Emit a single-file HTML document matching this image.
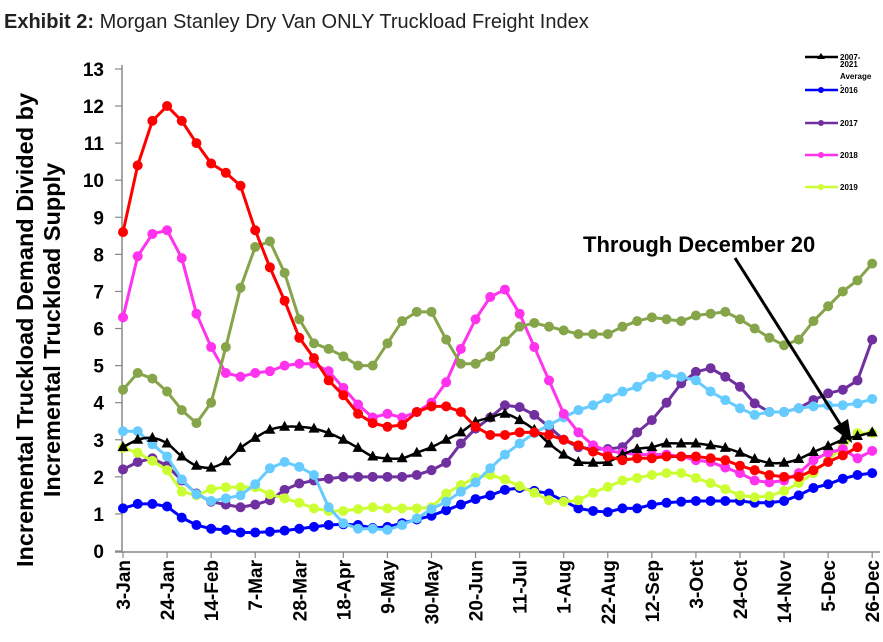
<!DOCTYPE html>
<html><head><meta charset="utf-8">
<style>
body{margin:0;background:#fff;width:883px;height:637px;overflow:hidden;font-family:"Liberation Sans",sans-serif}
</style></head>
<body>
<svg id="chart" width="883" height="637" viewBox="0 0 883 637" xmlns="http://www.w3.org/2000/svg" font-family="Liberation Sans, sans-serif">
<text x="4" y="28" font-size="20" fill="#222"><tspan font-weight="bold">Exhibit 2:</tspan> Morgan Stanley Dry Van ONLY Truckload Freight Index</text>
<g font-size="23.5" font-weight="bold" fill="#000" text-anchor="middle">
<text transform="translate(33,330) rotate(-90)">Incremental Truckload Demand Divided by</text>
<text transform="translate(60,330) rotate(-90)">Incremental Truckload Supply</text>
</g>
<g id="axes"></g>
<g id="series"></g>
<g id="legend"></g>
<text x="583" y="252" font-size="22" font-weight="bold" fill="#000">Through December 20</text>
<line x1="735" y1="258" x2="842" y2="427" stroke="#000" stroke-width="3"/>
<polygon points="852,443 833,428 848,419" fill="#000"/>
</svg>
<script>
const xLabels=["3-Jan","24-Jan","14-Feb","7-Mar","28-Mar","18-Apr","9-May","30-May","20-Jun","11-Jul","1-Aug","22-Aug","12-Sep","3-Oct","24-Oct","14-Nov","5-Dec","26-Dec"];
const yTicks=[0,1,2,3,4,5,6,7,8,9,10,11,12,13];
const avgValues=[2.8,3.0,3.05,2.9,2.55,2.3,2.25,2.42,2.78,3.05,3.27,3.35,3.35,3.3,3.18,3.0,2.78,2.55,2.5,2.5,2.65,2.8,3.0,3.2,3.48,3.6,3.7,3.53,3.27,2.9,2.6,2.4,2.38,2.4,2.6,2.75,2.8,2.9,2.9,2.9,2.85,2.78,2.65,2.48,2.38,2.38,2.48,2.67,2.83,3.0,3.1,3.2];
const s2016=[1.15,1.27,1.27,1.2,0.9,0.7,0.6,0.57,0.5,0.5,0.52,0.55,0.6,0.65,0.7,0.72,0.7,0.62,0.65,0.75,0.85,0.95,1.1,1.25,1.4,1.5,1.65,1.7,1.62,1.55,1.35,1.15,1.08,1.05,1.15,1.15,1.25,1.3,1.33,1.35,1.35,1.35,1.35,1.3,1.3,1.35,1.5,1.7,1.8,1.95,2.05,2.1];
const s2017=[2.2,2.4,2.5,2.3,1.9,1.55,1.33,1.25,1.18,1.25,1.37,1.65,1.82,1.9,1.95,2.0,2.0,2.0,2.0,2.0,2.05,2.18,2.38,2.9,3.3,3.6,3.93,3.88,3.67,3.35,3.0,2.8,2.75,2.75,2.8,3.2,3.53,4.0,4.52,4.83,4.93,4.7,4.43,3.98,3.75,3.75,3.85,4.07,4.25,4.35,4.6,5.7];
const s2018=[6.3,7.95,8.55,8.65,7.9,6.4,5.5,4.8,4.7,4.8,4.85,5.0,5.05,5.05,4.85,4.4,3.95,3.6,3.7,3.6,3.75,4.0,4.55,5.45,6.25,6.85,7.05,6.4,5.5,4.6,3.7,3.2,2.85,2.7,2.65,2.6,2.6,2.6,2.55,2.45,2.4,2.25,2.1,1.9,1.85,1.9,2.1,2.45,2.65,2.75,2.5,2.7];
const s2019=[2.78,2.65,2.43,2.18,1.6,1.5,1.67,1.72,1.72,1.72,1.53,1.42,1.3,1.15,1.08,1.08,1.13,1.18,1.15,1.15,1.15,1.18,1.55,1.78,1.98,2.05,1.93,1.75,1.57,1.37,1.33,1.37,1.57,1.73,1.9,1.97,2.05,2.1,2.1,1.97,1.83,1.67,1.5,1.45,1.48,1.62,1.83,2.1,2.45,2.8,3.18,3.18];
const s2020=[4.35,4.8,4.65,4.3,3.8,3.45,4.0,5.5,7.1,8.2,8.35,7.5,6.25,5.6,5.45,5.25,5.0,5.0,5.6,6.2,6.45,6.45,5.7,5.05,5.05,5.25,5.65,6.05,6.15,6.05,5.95,5.85,5.85,5.85,6.05,6.2,6.3,6.25,6.2,6.35,6.4,6.45,6.25,6.0,5.75,5.55,5.7,6.2,6.6,7.0,7.3,7.75];
const s2021=[3.23,3.23,2.88,2.55,1.93,1.53,1.35,1.42,1.5,1.8,2.23,2.4,2.27,2.05,1.18,0.75,0.6,0.6,0.57,0.7,0.88,1.13,1.33,1.6,1.85,2.23,2.6,2.9,3.18,3.4,3.6,3.8,3.93,4.12,4.3,4.43,4.7,4.75,4.7,4.6,4.3,4.07,3.85,3.67,3.75,3.75,3.85,3.9,3.93,3.93,3.98,4.1];
const s2022=[8.6,10.4,11.6,12.0,11.6,11.0,10.45,10.2,9.85,8.65,7.65,6.75,5.75,5.2,4.6,4.2,3.7,3.45,3.35,3.4,3.75,3.9,3.9,3.75,3.35,3.13,3.13,3.2,3.2,3.13,3.0,2.85,2.68,2.55,2.45,2.5,2.5,2.55,2.55,2.55,2.5,2.45,2.3,2.18,2.05,2.0,2.0,2.18,2.4,2.58,2.8];

const NS="http://www.w3.org/2000/svg";
const X0=123, DX=14.69, Y0=551, DY=37.08;
const xs=i=>X0+i*DX;
const ys=v=>Y0-v*DY;
function mk(tag,attrs,parent){const e=document.createElementNS(NS,tag);for(const k in attrs)e.setAttribute(k,attrs[k]);parent.appendChild(e);return e;}
const axes=document.getElementById('axes');
const yaxis=mk('line',{x1:X0-1,y1:ys(13)-4,x2:X0-1,y2:Y0+1,stroke:'#888','stroke-width':1.5},axes);


const xaxis=mk('line',{x1:X0-8,y1:Y0+1,x2:880,y2:Y0+1,stroke:'#888','stroke-width':1.5},axes);


yTicks.forEach(t=>{
  const tk=mk('line',{x1:X0-8,y1:ys(t),x2:X0-1,y2:ys(t),stroke:'#888','stroke-width':1.2},axes);
  
  
  const tx=mk('text',{x:104,y:ys(t)+7,'text-anchor':'end','font-size':19,'font-weight':'bold',fill:'#000'},axes);
  
  
  tx.textContent=t;
});
xLabels.forEach((l,k)=>{
  const x=xs(k*3);
  const tk=mk('line',{x1:x,y1:Y0+1,x2:x,y2:Y0+7,stroke:'#888','stroke-width':1.2},axes);
  
  
  const tx=mk('text',{transform:`translate(${x+7},560) rotate(-90)`,'text-anchor':'end','font-size':19,'font-weight':'bold',fill:'#000'},axes);
  
  
  tx.textContent=l;
});
const series=document.getElementById('series');
function smoothPath(pts){
  let d=`M${pts[0][0]},${pts[0][1]}`;
  for(let i=0;i<pts.length-1;i++){
    const p0=pts[Math.max(0,i-1)],p1=pts[i],p2=pts[i+1],p3=pts[Math.min(pts.length-1,i+2)];
    const c1=[p1[0]+(p2[0]-p0[0])/6,p1[1]+(p2[1]-p0[1])/6];
    const c2=[p2[0]-(p3[0]-p1[0])/6,p2[1]-(p3[1]-p1[1])/6];
    d+=`C${c1[0]},${c1[1]} ${c2[0]},${c2[1]} ${p2[0]},${p2[1]}`;
  }
  return d;
}
function drawCircles(vals,color,name){
  const g=mk('g',{},series);
  
  
  const pts=vals.map((v,i)=>[xs(i),ys(v)]);
  mk('polyline',{points:pts.map(p=>p.join(',')).join(' '),fill:'none',stroke:color,'stroke-width':3,'stroke-linejoin':'round'},g);
  pts.forEach(p=>{
    const c=mk('circle',{cx:p[0],cy:p[1],r:5,fill:color},g);
    
    
  });
}
drawCircles(s2016,'#0000ff','series-2016');
drawCircles(s2017,'#7030a0','series-2017');
drawCircles(s2019,'#ccff33','series-2019');
drawCircles(s2021,'#66ccff','series-2021');
drawCircles(s2018,'#ff33ee','series-2018');
drawCircles(s2020,'#86a44a','series-2020');
(function(){
  const g=mk('g',{},series);
  
  
  const pts=avgValues.map((v,i)=>[xs(i),ys(v)]);
  mk('path',{d:smoothPath(pts),fill:'none',stroke:'#000','stroke-width':2.5},g);
  pts.forEach(p=>{
    const t=mk('polygon',{points:`${p[0]},${p[1]-6} ${p[0]-5.5},${p[1]+4} ${p[0]+5.5},${p[1]+4}`,fill:'#000'},g);
    
    
  });
})();
drawCircles(s2022,'#ff0000','series-2022');
const legend=document.getElementById('legend');
const legItems=[["2007-","#000",57,"tri"],["2016","#0000ff",90,"c"],["2017","#7030a0",123,"c"],["2018","#ff33ee",155,"c"],["2019","#ccff33",187,"c"]];
legItems.forEach(it=>{
  const g=mk('g',{},legend);
  
  
  mk('line',{x1:805,y1:it[2],x2:838,y2:it[2],stroke:it[1],'stroke-width':2.5},g);
  if(it[3]==='tri') mk('polygon',{points:`821,${it[2]-4} 817,${it[2]+2} 825,${it[2]+2}`,fill:it[1]},g);
  else mk('circle',{cx:821,cy:it[2],r:3,fill:it[1]},g);
  const t=mk('text',{x:840,y:it[2]+3,'font-size':8,'font-weight':'bold',fill:'#000'},g);
  t.textContent=it[0];
});
[["2021",67],["Average",79],[".",86]].forEach(a=>{
  const t=mk('text',{x:840,y:a[1],'font-size':8,'font-weight':'bold',fill:'#000'},legend);
  
  
  t.textContent=a[0];
});
</script>
</body></html>
